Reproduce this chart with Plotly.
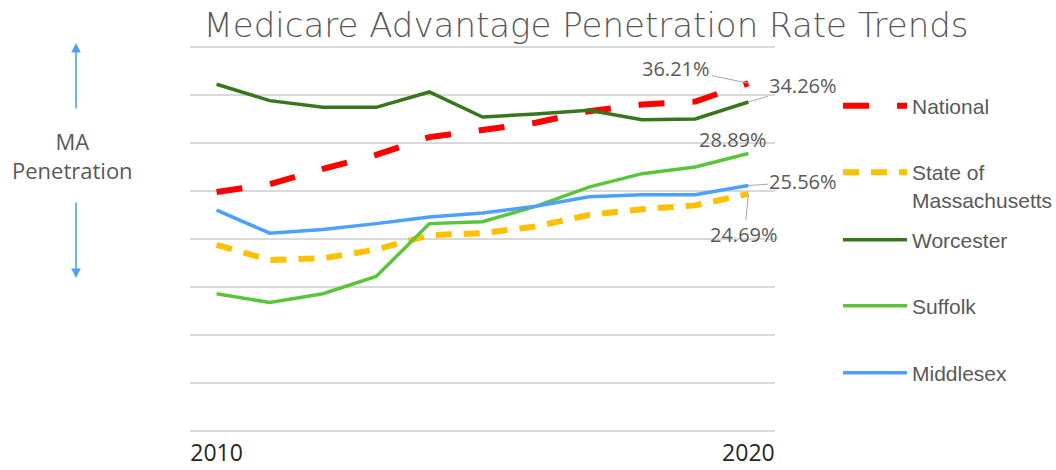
import plotly.graph_objects as go

# ---------------- data ----------------
years = [2010, 2011, 2012, 2013, 2014, 2015, 2016, 2017, 2018, 2019, 2020]
national = [24.9, 25.7, 27.3, 28.75, 30.6, 31.4, 32.1, 33.3, 34.0, 34.3, 36.21]
massachusetts = [19.4, 17.8, 18.0, 18.9, 20.4, 20.6, 21.3, 22.5, 23.1, 23.5, 24.69]
worcester = [36.1, 34.4, 33.7, 33.7, 35.3, 32.7, 33.0, 33.4, 32.4, 32.5, 34.26]
suffolk = [14.3, 13.4, 14.3, 16.1, 21.6, 21.8, 23.4, 25.4, 26.8, 27.5, 28.89]
middlesex = [23.0, 20.6, 21.0, 21.6, 22.3, 22.7, 23.4, 24.4, 24.6, 24.6, 25.56]

series_names = ["National", "State of<br>Massachusetts", "Worcester", "Suffolk", "Middlesex"]
tick_years = [2010, 2020]
tick_labels = ["2010", "2020"]
grid_vals = [0, 5, 10, 15, 20, 25, 30, 35, 40]
title_text = "Medicare Advantage Penetration Rate Trends"
side_label = "MA<br>Penetration"

# ---------------- layout geometry ----------------
W, H = 1056, 470
L, R, T, B = 190, 281, 42, 34
PW = W - L - R
PH = H - T - B


def px_x(px):
    return (px - L) / PW


def px_y(py):
    return (H - B - py) / PH


GRAY = "#595959"
LABEL_FONT = "Open Sans"

styles = [
    dict(color="#FF0000", width=6, dash="26px,28px"),
    dict(color="#FFC000", width=6, dash="16px,12px"),
    dict(color="#38761D", width=3.5, dash="solid"),
    dict(color="#5CC43C", width=3.5, dash="solid"),
    dict(color="#4DA0FF", width=3.5, dash="solid"),
]
values = [national, massachusetts, worcester, suffolk, middlesex]
legend_keys = ["legend", "legend2", "legend3", "legend4", "legend5"]
legend_y_px = [106, 186, 240, 306, 373]

fig = go.Figure()
for name, vals, st, lk in zip(series_names, values, styles, legend_keys):
    fig.add_trace(go.Scatter(
        x=years, y=vals, mode="lines", name=name, legend=lk,
        line=dict(color=st["color"], width=st["width"], dash=st["dash"]),
        hoverinfo="skip",
    ))

legend_common = dict(
    xanchor="left", yanchor="middle", x=px_x(838),
    bgcolor="rgba(0,0,0,0)", borderwidth=0, itemwidth=64, valign="top",
    font=dict(family="Liberation Sans", size=21, color=GRAY),
    tracegroupgap=0,
)
layout_legends = {}
for lk, ypx in zip(legend_keys, legend_y_px):
    layout_legends[lk] = dict(legend_common, y=px_y(ypx))

annotations = []
# end-point data labels
label_specs = [
    (national[-1], -72, -15),
    (worcester[-1], 55, -16),
    (middlesex[-1], 55, -4),
    (massachusetts[-1], -4, 41),
]
for v, ax, ay in label_specs:
    annotations.append(dict(
        x=years[-1], y=v, xref="x", yref="y", text=f"{v:.2f}%",
        showarrow=True, arrowhead=0, arrowwidth=1, arrowcolor="#A6A6A6",
        ax=ax, ay=ay, standoff=0,
        font=dict(family=LABEL_FONT, size=20, color=GRAY),
    ))
annotations.append(dict(
    x=years[-1], y=suffolk[-1], xref="x", yref="y", text=f"{suffolk[-1]:.2f}%",
    showarrow=False, xshift=-15, yshift=14,
    font=dict(family=LABEL_FONT, size=20, color=GRAY),
))

# side label with arrows
annotations.append(dict(
    x=px_x(72), y=px_y(155), xref="paper", yref="paper", text=side_label,
    showarrow=False, xanchor="center", yanchor="middle",
    font=dict(family=LABEL_FONT, size=22, color=GRAY),
))
annotations.append(dict(
    x=px_x(76), y=px_y(43), xref="paper", yref="paper", text="",
    showarrow=True, arrowhead=2, arrowsize=1.2, arrowwidth=1.6, arrowcolor="#4DA0FF",
    ax=0, ay=67, standoff=0,
))
annotations.append(dict(
    x=px_x(76), y=px_y(278), xref="paper", yref="paper", text="",
    showarrow=True, arrowhead=2, arrowsize=1.2, arrowwidth=1.6, arrowcolor="#4DA0FF",
    ax=0, ay=-77, standoff=0,
))

fig.update_layout(
    width=W, height=H,
    margin=dict(l=L, r=R, t=T, b=B, pad=0, autoexpand=False),
    paper_bgcolor="white", plot_bgcolor="white",
    title=dict(
        text=title_text, xref="container", yref="container",
        x=586 / W, xanchor="center", y=1 - 25 / H, yanchor="middle",
        font=dict(family="DejaVu Sans", size=34, color=GRAY, weight=200),
    ),
    xaxis=dict(
        range=[2009.5, 2020.5], tickmode="array", tickvals=tick_years, ticktext=tick_labels,
        showgrid=False, zeroline=False, showline=False, ticks="",
        tickfont=dict(family=LABEL_FONT, size=23, color="#262626"),
        ticklabelstandoff=1,
    ),
    yaxis=dict(
        range=[-0.5, 40.5], tickmode="array", tickvals=grid_vals,
        showticklabels=False, showgrid=True,
        gridcolor="#D9D9D9", gridwidth=1.5, zeroline=False, showline=False, ticks="",
    ),
    showlegend=True,
    annotations=annotations,
    **layout_legends,
)

fig.write_html("out.html", config={"displayModeBar": False},
               post_script="document.body.style.margin='0';")
